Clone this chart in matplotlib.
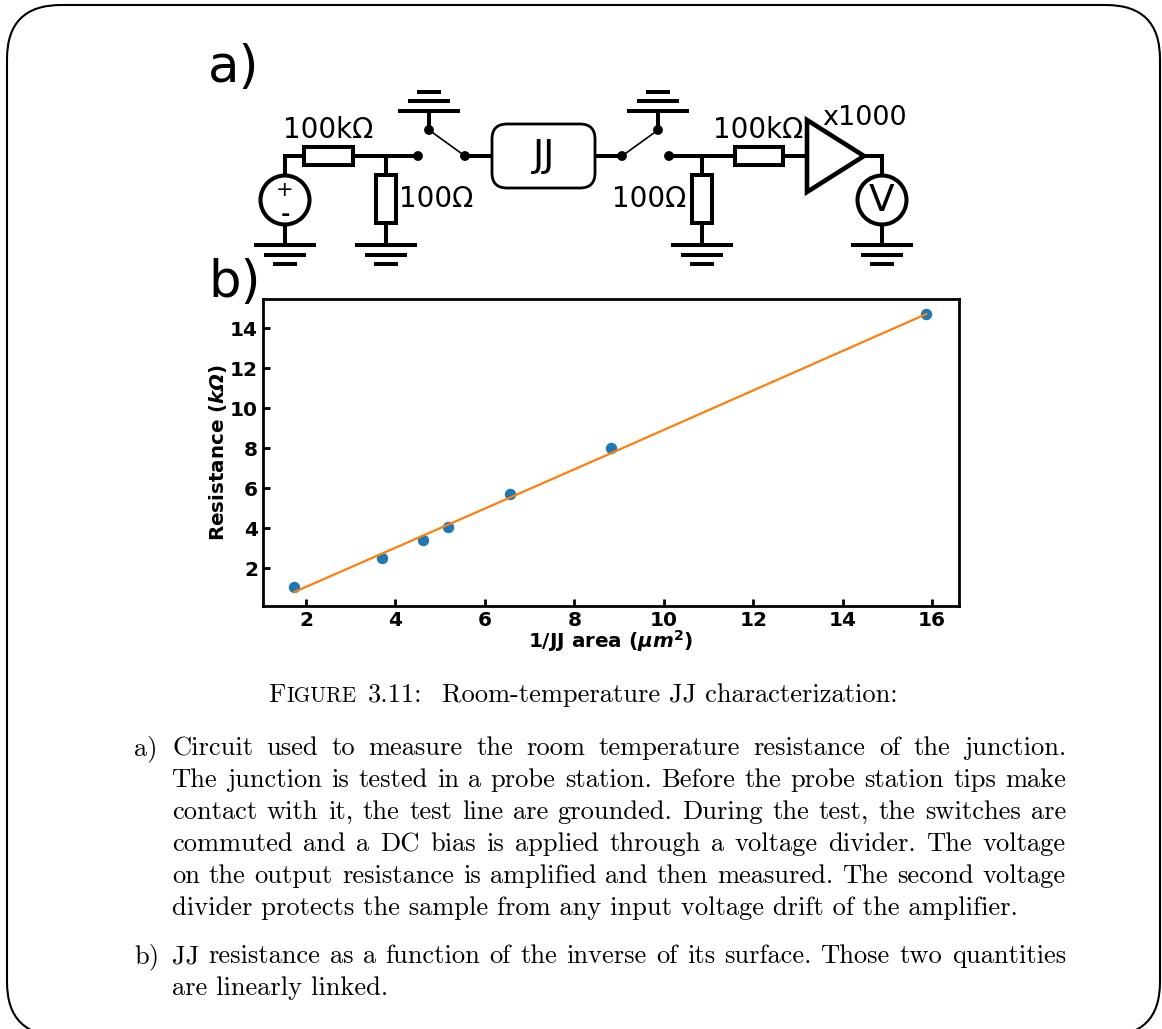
import matplotlib
matplotlib.use('Agg')
import matplotlib.pyplot as plt
from matplotlib.patches import FancyBboxPatch, Circle, Rectangle, Polygon

# data
area_inv = [1.74, 3.69, 4.62, 5.18, 6.56, 8.82, 15.87]
resistance = [1.03, 2.52, 3.38, 4.03, 5.68, 8.00, 14.70]
fit_values = [0.80, 2.71, 3.62, 4.17, 5.52, 7.74, 14.70]
x_ticks = [2, 4, 6, 8, 10, 12, 14, 16]
y_ticks = [2, 4, 6, 8, 10, 12, 14]

W, H = 1162, 1029
caption_a = ['Circuit used to measure the room temperature resistance of the junction.',
             'The junction is tested in a probe station. Before the probe station tips make',
             'contact with it, the test line are grounded. During the test, the switches are',
             'commuted and a DC bias is applied through a voltage divider. The voltage',
             'on the output resistance is amplified and then measured. The second voltage',
             'divider protects the sample from any input voltage drift of the amplifier.']
caption_b = ['JJ resistance as a function of the inverse of its surface. Those two quantities',
             'are linearly linked.']

fig = plt.figure(figsize=(W / 100, H / 100), dpi=100)

# overlay in pixel coordinates for border, circuit and text
bg = fig.add_axes([0, 0, 1, 1])
bg.set_xlim(0, W)
bg.set_ylim(H, 0)
bg.axis('off')

bg.add_patch(FancyBboxPatch((7, 5), 1153, 1031, boxstyle='round,pad=0,rounding_size=54',
                            fc='white', ec='black', lw=1.5))

LW = 2.9


def wire(xs, ys, lw=LW):
    bg.plot(xs, ys, color='black', lw=lw, solid_capstyle='butt', solid_joinstyle='miter')


def ground(x, y, up=False):
    # y = widest bar of the symbol
    s = -1 if up else 1
    wire([x - 31, x + 31], [y, y])
    wire([x - 21, x + 21], [y + s * 10, y + s * 10])
    wire([x - 12, x + 12], [y + s * 19, y + s * 19])


def resistor(x, y, w, h):
    bg.add_patch(Rectangle((x, y), w, h, fc='white', ec='black', lw=LW, zorder=3))


def dot(x, y):
    bg.add_patch(Circle((x, y), 4.2, fc='black', ec='black', zorder=4))


# left source branch
wire([285, 285], [225, 245])
wire([285, 285], [176, 154.5])
wire([283, 305], [156, 156])
bg.add_patch(Circle((285, 200), 24.5, fc='white', ec='black', lw=LW, zorder=3))
bg.text(285, 190, '+', fontsize=15, ha='center', va='center', zorder=5)
bg.text(285, 215, '-', fontsize=16, fontweight='bold', ha='center', va='center', zorder=5)
ground(285, 245)
resistor(304, 147, 49, 18)
wire([353, 418], [156, 156])
wire([386, 386], [156, 245])
resistor(376, 175, 20, 48)
ground(386, 245)
dot(418, 156)

# left switch
dot(429, 130)
dot(465, 156)
wire([429, 429], [111, 130])
ground(429, 111, up=True)
bg.plot([429, 465], [130, 156], color='black', lw=1.2)
wire([465, 492], [156, 156])

# JJ box
bg.add_patch(FancyBboxPatch((492, 124), 103, 64, boxstyle='round,pad=0,rounding_size=15',
                            fc='white', ec='black', lw=2))
bg.text(544, 156, 'JJ', fontsize=27, ha='center', va='center')

# right switch
wire([595, 622], [156, 156])
dot(622, 156)
dot(658, 130)
dot(669, 156)
wire([658, 658], [111, 130])
ground(658, 111, up=True)
bg.plot([622, 658], [156, 130], color='black', lw=1.2)

# right divider, amplifier, voltmeter
wire([669, 735], [156, 156])
wire([702, 702], [156, 245])
resistor(692, 175, 20, 48)
ground(702, 245)
resistor(735, 147, 48, 18)
wire([783, 808], [156, 156])
bg.add_patch(Polygon([[807, 120], [864, 156], [807, 192]], closed=True, fc='white',
                     ec='black', lw=3.3, joinstyle='miter', zorder=3))
wire([864, 882, 882], [156, 156, 176])
wire([882, 882], [224, 245])
bg.add_patch(Circle((882, 200), 24.5, fc='white', ec='black', lw=LW, zorder=3))
bg.text(882, 201, 'V', fontsize=27, ha='center', va='center', zorder=5)
ground(882, 245)

bg.text(328, 130, '100k\u03a9', fontsize=20, ha='center', va='center')
bg.text(436, 199, '100\u03a9', fontsize=20, ha='center', va='center')
bg.text(649, 199, '100\u03a9', fontsize=20, ha='center', va='center')
bg.text(758, 130, '100k\u03a9', fontsize=20, ha='center', va='center')
bg.text(865, 118, 'x1000', fontsize=19.5, ha='center', va='center')
bg.text(208, 68, 'a)', fontsize=37, ha='left', va='center')
bg.text(208, 283, 'b)', fontsize=37, ha='left', va='center')

# caption
serif = 'cmr10'
FS = 19.1
renderer = fig.canvas.get_renderer()


def text_line(x, y, line, right=None):
    # right = justify the words up to that pixel
    if right is None:
        bg.text(x, y, line, family=serif, fontsize=FS, va='baseline')
        return
    words = [bg.text(x, y, w, family=serif, fontsize=FS, va='baseline') for w in line.split()]
    widths = [t.get_window_extent(renderer).width for t in words]
    gap = (right - x - sum(widths)) / (len(words) - 1)
    for t, w in zip(words, widths):
        t.set_x(x)
        x += w + gap


bg.text(268, 702, 'F', family=serif, fontsize=FS, va='baseline')
bg.text(286, 702, 'IGURE', family=serif, fontsize=15.2, va='baseline')
bg.text(368, 702, '3.11:', family=serif, fontsize=FS, va='baseline')
bg.text(442, 702, 'Room-temperature JJ characterization:', family=serif, fontsize=FS, va='baseline')
text_line(134, 755, 'a)')
for i, line in enumerate(caption_a):
    text_line(172, 755 + i * 32, line, None if i == len(caption_a) - 1 else 1066)
text_line(134, 963, 'b)')
for i, line in enumerate(caption_b):
    text_line(172, 963 + i * 32, line, None if i == len(caption_b) - 1 else 1066)

# plot b)
ax = fig.add_axes([263 / W, 1 - 606 / H, (959 - 263) / W, (606 - 299) / H])
ax.scatter(area_inv, resistance, s=52, color='#1f77b4', zorder=2)
ax.plot(area_inv, fit_values, color='#ff7f0e', lw=1.6, zorder=3)
ax.set_xlim(1.04, 16.6)
ax.set_ylim(0.1, 15.45)
ax.set_xticks(x_ticks)
ax.set_yticks(y_ticks)
ax.tick_params(direction='in', width=2, length=5, labelsize=14.5, pad=3.5)
for lab in ax.get_xticklabels() + ax.get_yticklabels():
    lab.set_fontweight('bold')
for sp in ax.spines.values():
    sp.set_linewidth(2)
plt.rcParams['mathtext.default'] = 'it'
ax.set_xlabel(r'1/JJ area ($\mathbfit{\mu m}^{\mathbf{2}}$)', fontsize=14.4, fontweight='bold', labelpad=-1)
ax.set_ylabel(r'Resistance ($\mathbfit{k\Omega}$)', fontsize=14.3, fontweight='bold', labelpad=0.5)

fig.savefig('out.png', dpi=100)
